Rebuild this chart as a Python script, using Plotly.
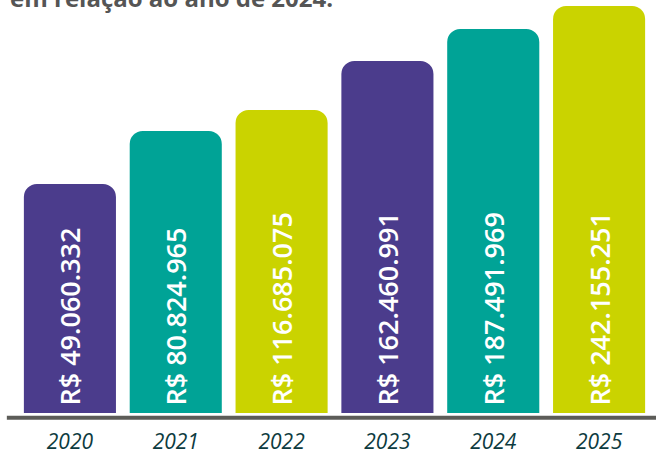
import plotly.graph_objects as go

years = ["2020", "2021", "2022", "2023", "2024", "2025"]
value_labels = ["R$ 49.060.332", "R$ 80.824.965", "R$ 116.685.075",
                "R$ 162.460.991", "R$ 187.491.969", "R$ 242.155.251"]
# displayed bar heights as drawn in the infographic (not proportional to values)
bar_heights = [229, 282, 303, 352, 384, 407]
bar_colors = ["#4b3c8c", "#00a396", "#cad300", "#4b3c8c", "#00a396", "#cad300"]

fig = go.Figure()
fig.add_trace(go.Bar(
    x=years, y=bar_heights,
    marker=dict(color=bar_colors, line=dict(width=0)),
    text=["\u2009" + t for t in value_labels],
    textposition="inside",
    insidetextanchor="start",
    textangle=-90,
    textfont=dict(family="Open Sans", size=27, color="white", weight=600),
    hoverinfo="skip",
))

fig.add_shape(type="line", xref="paper", yref="paper",
              x0=-0.016, x1=1.01, y0=-0.0115, y1=-0.0115,
              line=dict(color="#5c5c58", width=4))

fig.add_annotation(text="em relação ao ano de 2024.", xref="paper", yref="paper",
                   x=-0.0142, y=1.007, xanchor="left", yanchor="middle",
                   showarrow=False,
                   font=dict(family="Open Sans", size=24, color="#555555", weight=700))

fig.update_layout(
    width=656, height=455,
    margin=dict(l=17, r=4, t=0, b=42, autoexpand=False),
    paper_bgcolor="white", plot_bgcolor="white",
    bargap=0.13,
    barcornerradius=13,
    showlegend=False,
    xaxis=dict(showgrid=False, zeroline=False, showline=False, ticks="",
               automargin=False,
               tickfont=dict(family="Open Sans", size=21, color="#0d3b40", style="italic"),
               ticklabelstandoff=14),
    yaxis=dict(range=[0, 413], visible=False, fixedrange=True, automargin=False),
    uniformtext=dict(mode=False),
)

fig.write_html("out.html", config={"displayModeBar": False},
               post_script="document.body.style.margin='0';")
